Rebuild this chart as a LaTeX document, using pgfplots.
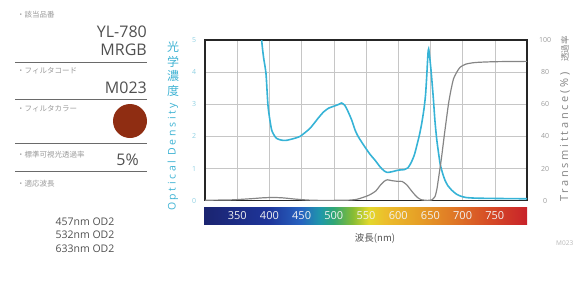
\documentclass[border=0pt]{standalone}
\usepackage{fontspec}
\setmainfont{Open Sans}
\newfontfamily\jp{Noto Sans CJK JP}
\newfontfamily\ls[LetterSpace=25]{Open Sans}
\usepackage{pgfplots}
\pgfplotsset{compat=1.18}
\definecolor{od}{HTML}{36B3D6}
\definecolor{odlbl}{HTML}{3DB2D3}
\definecolor{odtick}{HTML}{8FD0E2}
\definecolor{tr}{HTML}{858585}
\definecolor{txt}{HTML}{505050}
\definecolor{lbl}{HTML}{9A9A9A}
\definecolor{rline}{HTML}{6A6A6A}
\definecolor{filt}{HTML}{8F2D12}
\definecolor{sA}{HTML}{1B2470}
\definecolor{sB}{HTML}{1E359A}
\definecolor{sC}{HTML}{2763C0}
\definecolor{sD}{HTML}{1F98AA}
\definecolor{sE}{HTML}{2FA676}
\definecolor{sF}{HTML}{86BC35}
\definecolor{sG}{HTML}{E2D82C}
\definecolor{sH}{HTML}{ECBE2C}
\definecolor{sI}{HTML}{E6A026}
\definecolor{sJ}{HTML}{E07C26}
\definecolor{sK}{HTML}{D64C26}
\definecolor{sL}{HTML}{C8222A}
\pgfdeclarehorizontalshading{spectrum}{100bp}{color(0bp)=(sA); color(25bp)=(sA); color(35bp)=(sB); color(40bp)=(sC); color(43bp)=(sD); color(45bp)=(sE); color(48bp)=(sF); color(50.5bp)=(sG); color(53bp)=(sH); color(58bp)=(sI); color(63bp)=(sJ); color(69bp)=(sK); color(75bp)=(sL); color(100bp)=(sL)}
\begin{document}
\begin{tikzpicture}
\path[use as bounding box] (0,0) rectangle (573pt,-282pt);
% ---------- left panel ----------
\begin{scope}[every node/.style={inner sep=0pt}]
\node[anchor=west, text=lbl, font=\jp\fontsize{7.5}{8}\selectfont] at (17pt,-15pt) {・該当品番};
\node[anchor=east, text=txt, font=\fontsize{16}{16}\selectfont] at (147pt,-31.5pt) {YL-780};
\node[anchor=east, text=txt, font=\fontsize{16}{16}\selectfont] at (147pt,-49.5pt) {MRGB};
\draw[rline, line width=0.8pt] (15pt,-62pt) -- (147pt,-62pt);
\node[anchor=west, text=lbl, font=\jp\fontsize{7.5}{8}\selectfont] at (17pt,-71pt) {・フィルタコード};
\node[anchor=east, text=txt, font=\fontsize{16}{16}\selectfont] at (147pt,-87.5pt) {M023};
\draw[rline, line width=0.8pt] (15pt,-99pt) -- (147pt,-99pt);
\node[anchor=west, text=lbl, font=\jp\fontsize{7.5}{8}\selectfont] at (17pt,-108.5pt) {・フィルタカラー};
\fill[filt] (130pt,-121pt) circle (17pt);
\draw[rline, line width=0.8pt] (15pt,-143.5pt) -- (147pt,-143.5pt);
\node[anchor=west, text=lbl, font=\jp\fontsize{7.5}{8}\selectfont] at (17pt,-155pt) {・標準可視光透過率};
\node[anchor=east, text=txt, font=\fontsize{16}{16}\selectfont] at (139pt,-160pt) {5\%};
\draw[rline, line width=0.8pt] (15pt,-171pt) -- (147pt,-171pt);
\node[anchor=west, text=lbl, font=\jp\fontsize{7.5}{8}\selectfont] at (17pt,-183.5pt) {・適応波長};
\node[text=txt, font=\fontsize{10.5}{11}\selectfont] at (85pt,-221.5pt) {457nm OD2};
\node[text=txt, font=\fontsize{10.5}{11}\selectfont] at (85pt,-235pt) {532nm OD2};
\node[text=txt, font=\fontsize{10.5}{11}\selectfont] at (85pt,-248.5pt) {633nm OD2};
% axis titles
\node[text=odlbl, font=\jp\fontsize{12}{12}\selectfont] at (173pt,-47pt) {光};
\node[text=odlbl, font=\jp\fontsize{12}{12}\selectfont] at (173pt,-61.5pt) {学};
\node[text=odlbl, font=\jp\fontsize{12}{12}\selectfont] at (173pt,-76pt) {濃};
\node[text=odlbl, font=\jp\fontsize{12}{12}\selectfont] at (173pt,-90.5pt) {度};
\node[rotate=90, text=odlbl, font=\ls\fontsize{10.5}{11}\selectfont] at (173pt,-157pt) {Optical Density};
\node[rotate=90, text=tr, font=\ls\fontsize{11}{11}\selectfont] at (565pt,-137pt) {Transmittance(\%)};
\node[rotate=90, text=tr, font=\jp\fontsize{8.5}{9}\selectfont] at (565pt,-49pt) {透過率};
% colour bar
\shade[shading=spectrum] (204pt,-207.5pt) rectangle (527pt,-224pt);
\foreach \w in {350,400,...,750}{
  \pgfmathsetmacro{\xx}{205+(\w-300)*0.644}
  \node[text=white!90!gray, font=\fontsize{11}{11}\selectfont] at (\xx pt,-215.8pt) {\w};
}
\node[text=txt, font=\jp\fontsize{9.5}{10}\selectfont] at (375pt,-238pt) {波長(nm)};
\node[anchor=west, text=lbl!70, font=\fontsize{6.5}{7}\selectfont] at (556pt,-243pt) {M023};
\end{scope}
% ---------- OD axis ----------
\begin{axis}[at={(205pt,-200.7pt)}, anchor=south west,
  width=322pt, height=160.7pt, scale only axis,
  xmin=300, xmax=800, ymin=0, ymax=5,
  xtick={300,350,...,800}, xticklabels={},
  ytick={0,1,...,5},
  grid=major, grid style={gray!45, line width=0.6pt},
  axis line style={line width=1.3pt, black!85},
  major tick length=0pt,
  /pgf/number format/assume math mode=true,
  yticklabel style={font=\fontsize{7}{7}\selectfont, text=odtick, anchor=center, xshift=-11pt},
  clip=true]
\addplot[od, line width=1.6pt, smooth, tension=0.35] coordinates {
(385,6.2) (388,5.0) (391,4.45) (394.7,3.96) (398,2.92) (403.5,2.2) (411,1.94) (420,1.88) (427,1.88) (437,1.93) (447.5,2.0) (463,2.25) (475,2.55) (484,2.76) (492,2.88) (500,2.94) (508,3.0) (512,3.04) (517,2.97) (522,2.78) (528,2.5) (533,2.2) (538,1.99) (548,1.68) (556,1.45) (564,1.26) (572,1.05) (578,0.93) (583,0.88) (590,0.9) (600,0.95) (610,0.97) (615,1.02) (620,1.18) (625,1.42) (629,1.72) (633,2.05) (636.5,2.4) (640,2.85) (642.5,3.3) (644.5,3.95) (646.3,4.6) (647.3,4.72) (648.5,4.55) (651,4.05) (654.5,3.2) (657,2.5) (660,1.88) (665,1.16) (669,0.85) (672.6,0.64) (677,0.47) (683,0.33) (690,0.21) (696,0.15) (705,0.1) (720,0.08) (750,0.07) (800,0.06)};
\end{axis}
% ---------- transmittance axis ----------
\begin{axis}[at={(205pt,-200.7pt)}, anchor=south west,
  width=322pt, height=160.7pt, scale only axis,
  xmin=300, xmax=800, ymin=0, ymax=100,
  axis x line=none, axis y line*=right,
  axis line style={draw=none},
  ytick={0,20,...,100},
  major tick length=0pt,
  /pgf/number format/assume math mode=true,
  yticklabel style={font=\fontsize{7}{7}\selectfont, text=lbl, anchor=center, xshift=18pt}]
\addplot[tr, line width=1.2pt, smooth, tension=0.4] coordinates {
(300,0.3) (340,0.5) (370,1.2) (390,1.8) (405,2.0) (420,1.8) (440,1.0) (460,0.4) (480,0.2) (520,0.3) (535,0.8) (545,2) (555,3.5) (565,6) (572,9.5) (578,12) (583,13) (590,12.5) (600,12) (606,12) (613,10) (618,7.5) (624,4.5) (630,2) (636,0.6) (645,0.2) (652,0.5) (657,2.5) (660,7) (663,15) (667,26) (672,42) (678,60) (682,69) (686,76) (691,80) (696,83) (705,85) (720,86) (750,86.5) (800,86.7)};
\end{axis}
\end{tikzpicture}
\end{document}
